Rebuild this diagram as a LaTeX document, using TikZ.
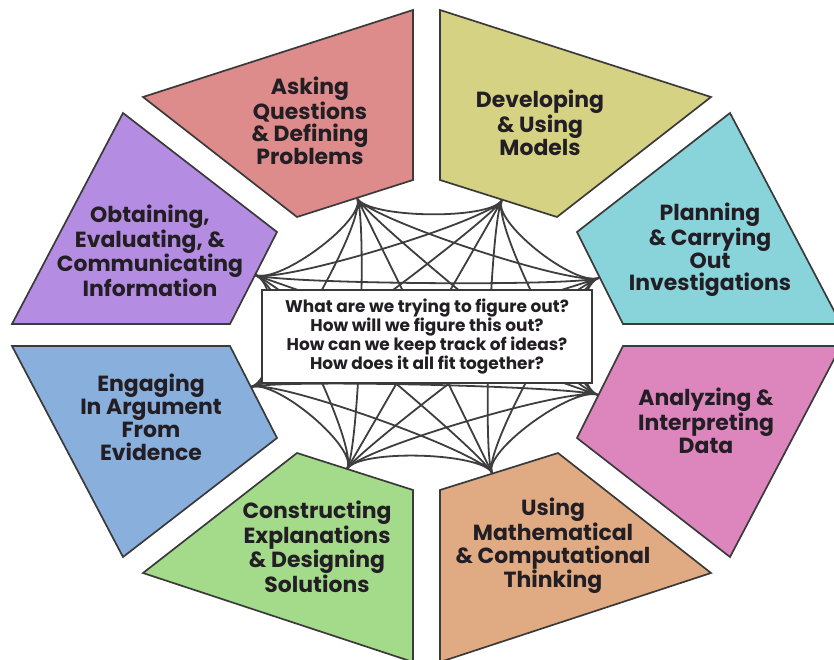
\documentclass[tikz,border=0pt]{standalone}
\usepackage{fontspec}
\setmainfont{Poppins}
\usetikzlibrary{calc}

\definecolor{askred}{RGB}{221,139,139}
\definecolor{modelyellow}{RGB}{214,210,131}
\definecolor{plancyan}{RGB}{137,212,219}
\definecolor{datapink}{RGB}{221,134,190}
\definecolor{mathtan}{RGB}{224,171,131}
\definecolor{explgreen}{RGB}{163,219,138}
\definecolor{argblue}{RGB}{137,175,221}
\definecolor{infopurple}{RGB}{180,141,226}
\definecolor{edgegray}{RGB}{58,58,58}
\definecolor{webgray}{RGB}{62,62,62}
\definecolor{labeltext}{RGB}{34,30,36}

\begin{document}
\begin{tikzpicture}[
    x=1bp, y=-1bp,
    practice/.style={draw=edgegray, line width=1.7bp, line join=miter},
    label/.style={font=\bfseries\fontsize{22}{23}\selectfont, text=labeltext, align=center, inner sep=0pt},
    web/.style={draw=webgray, line width=1.8bp,
        to path={.. controls ($(\tikztostart)!0.15!(mid)$) and ($(\tikztotarget)!0.15!(mid)$) .. (\tikztotarget)}},
    question/.style={rectangle, draw=edgegray, line width=1.8bp, fill=white, minimum width=330bp, minimum height=93bp,
        align=center, font=\bfseries\fontsize{17}{18}\selectfont, text=labeltext}
]
\useasboundingbox (0,0) rectangle (834,660);

% Centre of the octagon
\coordinate (mid) at (426.5,335);

% Hubs where the web meets each practice
\coordinate (ask) at (357,198);
\coordinate (mod) at (502,200);
\coordinate (plan) at (599,278);
\coordinate (data) at (598,395);
\coordinate (math) at (492,473);
\coordinate (expl) at (347,469);
\coordinate (arg) at (251,387);
\coordinate (info) at (255,275);

% Web linking every practice to every other one
\draw[web] (ask) to (mod) (ask) to (plan) (ask) to (data) (ask) to (math) (ask) to (expl) (ask) to (arg) (ask) to (info);
\draw[web] (mod) to (plan) (mod) to (data) (mod) to (math) (mod) to (expl) (mod) to (arg) (mod) to (info);
\draw[web] (plan) to (data) (plan) to (math) (plan) to (expl) (plan) to (arg) (plan) to (info);
\draw[web] (data) to (math) (data) to (expl) (data) to (arg) (data) to (info);
\draw[web] (math) to (expl) (math) to (arg) (math) to (info);
\draw[web] (expl) to (arg) (expl) to (info);
\draw[web] (arg) to (info);

% Octagon segments
\filldraw[practice, fill=askred] (143,97) -- (413,10) -- (413,180) -- (297,217) -- cycle;
\filldraw[practice, fill=modelyellow] (440,10) -- (711,97) -- (557,217) -- (440,180) -- cycle;
\filldraw[practice, fill=plancyan] (730,113) -- (841,324) -- (623,324) -- (577,232) -- cycle;
\filldraw[practice, fill=datapink] (623,346) -- (841,346) -- (730,557) -- (577,438) -- cycle;
\filldraw[practice, fill=mathtan] (558,453) -- (711,573) -- (440,662) -- (440,490) -- cycle;
\filldraw[practice, fill=explgreen] (297,453) -- (413,490) -- (413,662) -- (143,573) -- cycle;
\filldraw[practice, fill=argblue] (12,346) -- (230,346) -- (277,438) -- (123,557) -- cycle;
\filldraw[practice, fill=infopurple] (123,113) -- (277,232) -- (230,324) -- (12,324) -- cycle;

% Labels
\node[label] (asking) at (310,121) {Asking\\Questions\\\& Defining\\Problems};
\node[label] (models) at (540,123) {Developing\\\& Using\\Models};
\node[label] (planning) at (710,250) {Planning\\\& Carrying\\Out\\Investigations};
\node[label] (analyzing) at (706,421) {Analyzing \&\\Interpreting\\Data};
\node[label] (mathematical) at (553,546) {Using\\Mathematical\\\& Computational\\Thinking};
\node[label] (constructing) at (317,547) {Constructing\\Explanations\\\& Designing\\Solutions};
\node[label] (engaging) at (151,417) {Engaging\\In Argument\\From\\Evidence};
\node[label] (obtaining) at (150,251) {Obtaining,\\Evaluating, \&\\Communicating\\Information};

% Guiding questions
\node[question] (core) at (427,336.5) {What are we trying to figure out?\\How will we figure this out?\\How can we keep track of ideas?\\How does it all fit together?};

\end{tikzpicture}
\end{document}
